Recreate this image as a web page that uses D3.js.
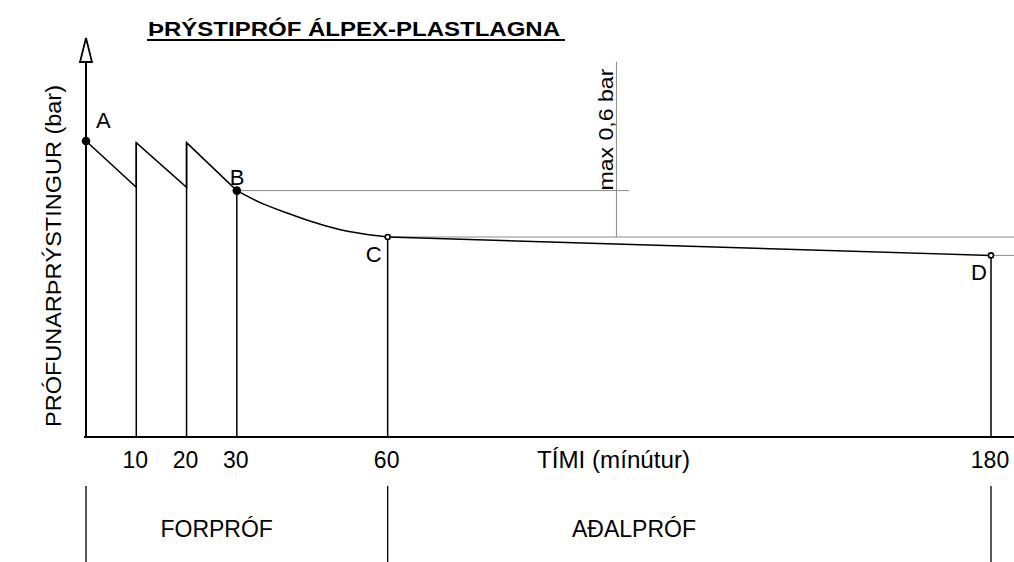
<!DOCTYPE html>
<html>
<head>
<meta charset="utf-8">
<script src="https://cdn.jsdelivr.net/npm/d3@7"></script>
<style>
  html, body { margin: 0; padding: 0; background: #fff; }
  svg { display: block; font-family: 'Liberation Sans', Arial, sans-serif; }
</style>
</head>
<body>
<div id="chart"></div>
<script>
// Pressure test chart (ÞRÝSTIPRÓF)
const width = 1014;
const height = 562;

// x axis ticks (minutes)
const tickValues = [10, 20, 30, 60, 180];

// pressure curve: time (min) and pressure (bar)
const curveTimes =     [0,   10,   10,   20,   20,   30,   35,   40,  45,   50,  55,   60,  180];
const curvePressures = [3.7, 3.12, 3.68, 3.12, 3.68, 3.08, 2.92, 2.8, 2.69, 2.6, 2.54, 2.5, 2.27];

// labelled points
const pointNames = ["A", "B", "C", "D"];
const pointTimes = [0, 30, 60, 180];
const pointPressures = [3.7, 3.08, 2.5, 2.27];

// drop lines down to the time axis
const dropTimes = [10, 20, 30, 60, 180];
const dropPressures = [3.68, 3.68, 3.08, 2.5, 2.27];

// phases under the axis
const phaseNames = ["FORPRÓF", "AÐALPRÓF"];
const phaseLabelTimes = [26, 109];
const phaseBounds = [0, 60, 180];

// max drop annotation
const maxDropTime = 105.5;
const maxDropTop = 4.69;

const margin = {left: 86, right: 23, top: 37, bottom: 125};

const x = d3.scaleLinear()
  .domain([0, 180])
  .range([margin.left, width - margin.right]);

const y = d3.scaleLinear()
  .domain([0, 5])
  .range([height - margin.bottom, margin.top]);

const svg = d3.select("#chart").append("svg")
  .attr("width", width)
  .attr("height", height);

const y0 = y(0);

// title
svg.append("text")
  .attr("x", 148)
  .attr("y", 36)
  .attr("font-size", "20px")
  .attr("font-weight", "bold")
  .attr("textLength", 412)
  .attr("lengthAdjust", "spacingAndGlyphs")
  .attr("fill", "#000")
  .text("ÞRÝSTIPRÓF ÁLPEX-PLASTLAGNA");

svg.append("line")
  .attr("x1", 147).attr("x2", 565)
  .attr("y1", 40).attr("y2", 40)
  .attr("stroke", "#000")
  .attr("stroke-width", 2);

// y axis label
svg.append("text")
  .attr("transform", `translate(61, ${y0 - 10}) rotate(-90)`)
  .attr("font-size", "22px")
  .attr("textLength", 342)
  .attr("lengthAdjust", "spacingAndGlyphs")
  .attr("fill", "#000")
  .text("PRÓFUNARÞRÝSTINGUR (bar)");

// thin reference lines
const refColor = "#8a8a8a";
const bP = pointPressures[1];
const cP = pointPressures[2];
const dP = pointPressures[3];

svg.append("line")
  .attr("x1", x(30)).attr("x2", x(108))
  .attr("y1", y(bP)).attr("y2", y(bP))
  .attr("stroke", refColor).attr("stroke-width", 1);

svg.append("line")
  .attr("x1", x(60)).attr("x2", width)
  .attr("y1", y(cP)).attr("y2", y(cP))
  .attr("stroke", refColor).attr("stroke-width", 1);

svg.append("line")
  .attr("x1", x(180)).attr("x2", width)
  .attr("y1", y(dP)).attr("y2", y(dP))
  .attr("stroke", refColor).attr("stroke-width", 1);

svg.append("line")
  .attr("x1", x(maxDropTime)).attr("x2", x(maxDropTime))
  .attr("y1", y(maxDropTop)).attr("y2", y(cP))
  .attr("stroke", refColor).attr("stroke-width", 1);

svg.append("text")
  .attr("transform", `translate(${x(maxDropTime) - 3}, ${y(bP)}) rotate(-90)`)
  .attr("font-size", "20px")
  .attr("textLength", 122)
  .attr("lengthAdjust", "spacingAndGlyphs")
  .attr("fill", "#000")
  .text("max 0,6 bar");

// drop lines
svg.selectAll(".drop")
  .data(dropTimes)
  .join("line")
  .attr("class", "drop")
  .attr("x1", d => x(d)).attr("x2", d => x(d))
  .attr("y1", y0)
  .attr("y2", (d, i) => y(dropPressures[i]))
  .attr("stroke", "#000")
  .attr("stroke-width", 1.5);

// pressure curve
const curvePts = curveTimes.map((t, i) => [x(t), y(curvePressures[i])]);
const line = d3.line();
// straight saw-tooth part, smooth decay B->C, straight C->D
svg.append("path")
  .attr("d", line(curvePts.slice(0, 6)))
  .attr("fill", "none").attr("stroke", "#000").attr("stroke-width", 1.5);
svg.append("path")
  .attr("d", d3.line().curve(d3.curveMonotoneX)(curvePts.slice(5, 12)))
  .attr("fill", "none").attr("stroke", "#000").attr("stroke-width", 1.5);
svg.append("path")
  .attr("d", line(curvePts.slice(11)))
  .attr("fill", "none").attr("stroke", "#000").attr("stroke-width", 1.5);

// axes
svg.append("line")
  .attr("x1", x(0) - 2).attr("x2", width)
  .attr("y1", y0).attr("y2", y0)
  .attr("stroke", "#000").attr("stroke-width", 2);

svg.append("line")
  .attr("x1", x(0)).attr("x2", x(0))
  .attr("y1", y0).attr("y2", 45)
  .attr("stroke", "#000").attr("stroke-width", 2);

// hollow arrow head
svg.append("path")
  .attr("d", `M${x(0)},38 L${x(0) - 6},62 L${x(0) + 6},62 Z`)
  .attr("fill", "#fff")
  .attr("stroke", "#000")
  .attr("stroke-width", 1.8);

// points
svg.selectAll(".pt")
  .data(pointTimes)
  .join("circle")
  .attr("class", "pt")
  .attr("cx", d => x(d))
  .attr("cy", (d, i) => y(pointPressures[i]))
  .attr("r", (d, i) => i < 2 ? 3.5 : 2.5)
  .attr("fill", (d, i) => i < 2 ? "#000" : "#fff")
  .attr("stroke", "#000")
  .attr("stroke-width", 1.6);

// point letters
const letterOffsets = [[10, -13], [-7, -6], [-22, 25], [-20, 25]];
svg.selectAll(".pt-label")
  .data(pointNames)
  .join("text")
  .attr("class", "pt-label")
  .attr("x", (d, i) => x(pointTimes[i]) + letterOffsets[i][0])
  .attr("y", (d, i) => y(pointPressures[i]) + letterOffsets[i][1])
  .attr("font-size", "22px")
  .attr("fill", "#000")
  .text(d => d);

// tick labels
svg.selectAll(".tick-label")
  .data(tickValues)
  .join("text")
  .attr("class", "tick-label")
  .attr("x", d => x(d) - 1)
  .attr("y", y0 + 31)
  .attr("text-anchor", "middle")
  .attr("font-size", "23px")
  .attr("fill", "#000")
  .text(d => d);

svg.append("text")
  .attr("x", 537)
  .attr("y", y0 + 31)
  .attr("font-size", "23px")
  .attr("textLength", 153)
  .attr("lengthAdjust", "spacingAndGlyphs")
  .attr("fill", "#000")
  .text("TÍMI (mínútur)");

// phase separators and names
svg.selectAll(".phase-line")
  .data(phaseBounds)
  .join("line")
  .attr("class", "phase-line")
  .attr("x1", d => x(d)).attr("x2", d => x(d))
  .attr("y1", y0 + 49).attr("y2", height)
  .attr("stroke", "#000")
  .attr("stroke-width", 1.3);

svg.selectAll(".phase-label")
  .data(phaseNames)
  .join("text")
  .attr("class", "phase-label")
  .attr("x", (d, i) => x(phaseLabelTimes[i]))
  .attr("y", y0 + 100)
  .attr("text-anchor", "middle")
  .attr("font-size", "23px")
  .attr("fill", "#000")
  .text(d => d);
</script>
</body>
</html>
